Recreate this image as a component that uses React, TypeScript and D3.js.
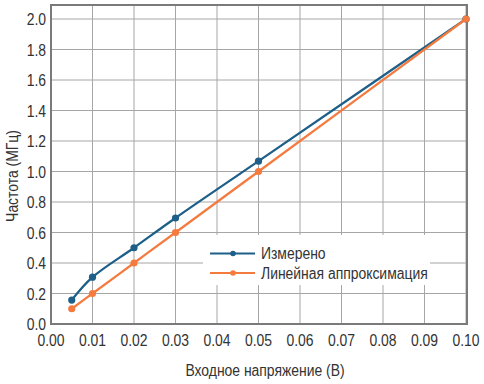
import React from "react";
import * as d3 from "d3";

const xValues = [0.005, 0.01, 0.02, 0.03, 0.05, 0.1];
const measured = [0.157, 0.307, 0.5, 0.695, 1.068, 2.0];
const linearFit = [0.1, 0.2, 0.4, 0.6, 1.0, 2.0];
const xTicks = [0, 0.01, 0.02, 0.03, 0.04, 0.05, 0.06, 0.07, 0.08, 0.09, 0.1];
const yTicks = [0, 0.2, 0.4, 0.6, 0.8, 1.0, 1.2, 1.4, 1.6, 1.8, 2.0];
const seriesNames = ["Измерено", "Линейная аппроксимация"];
const seriesColors = ["#1d5f88", "#f47a3e"];

const W = 484, H = 384;
const L = 51, R = 467, T = 5, B = 324;
const FONT = "'Liberation Sans', Arial, sans-serif";
const SX = 0.87;

function T2(props: { x: number; y: number; anchor?: string; rotate?: number; children: React.ReactNode }) {
  const { x, y, anchor = "start", rotate = 0, children } = props;
  return (
    <text
      transform={`translate(${x},${y}) rotate(${rotate}) scale(${SX},1)`}
      textAnchor={anchor}
      fontFamily={FONT}
      fontSize={16}
      fill="#333"
    >
      {children}
    </text>
  );
}

export default function App() {
  const x = d3.scaleLinear().domain([0, 0.1]).range([L, R - 1]);
  const y = d3.scaleLinear().domain([0, 2.0]).range([B, 19]);
  const line = d3
    .line<[number, number]>()
    .x((d) => x(d[0]))
    .y((d) => y(d[1]))
    .curve(d3.curveCatmullRom.alpha(0.5));
  const series = [measured, linearFit].map((vals) =>
    xValues.map((xv, i) => [xv, vals[i]] as [number, number])
  );
  return (
    <svg width={W} height={H} style={{ position: "absolute", left: 0, top: 0, background: "#fff" }}>
      <rect x={0} y={0} width={W} height={H} fill="#fff" />
      {xTicks.map((t) => (
        <line key={"gx" + t} x1={x(t)} x2={x(t)} y1={T} y2={B} stroke="#a6a6a6" strokeWidth={1} />
      ))}
      {yTicks.map((t) => (
        <line key={"gy" + t} x1={L} x2={R} y1={y(t)} y2={y(t)} stroke="#a6a6a6" strokeWidth={1} />
      ))}
      <rect x={L} y={T} width={R - L} height={B - T} fill="none" stroke="#7a7a7a" strokeWidth={2} />
      <rect x={203} y={235} width={227} height={50} fill="#fff" />
      {series.map((pts, si) => (
        <g key={si}>
          <path d={line(pts) || ""} fill="none" stroke={seriesColors[si]} strokeWidth={2.2} />
          {pts.map((p, i) => (
            <circle key={i} cx={x(p[0])} cy={y(p[1])} r={3.6} fill={seriesColors[si]} />
          ))}
        </g>
      ))}
      {seriesNames.map((n, i) => (
        <g key={n}>
          <line x1={210} x2={255} y1={253.5 + i * 19.5} y2={253.5 + i * 19.5} stroke={seriesColors[i]} strokeWidth={2.2} />
          <circle cx={233} cy={253.5 + i * 19.5} r={2.8} fill={seriesColors[i]} />
          <T2 x={261} y={259 + i * 19.5}>{n}</T2>
        </g>
      ))}
      {yTicks.map((t) => (
        <T2 key={"ty" + t} x={46} y={y(t) + 6} anchor="end">
          {t.toFixed(1)}
        </T2>
      ))}
      {xTicks.map((t) => (
        <T2 key={"tx" + t} x={x(t)} y={345.5} anchor="middle">
          {t.toFixed(2)}
        </T2>
      ))}
      <T2 x={265} y={376} anchor="middle">Входное напряжение (В)</T2>
      <T2 x={18} y={176} anchor="middle" rotate={-90}>Частота (МГц)</T2>
    </svg>
  );
}
